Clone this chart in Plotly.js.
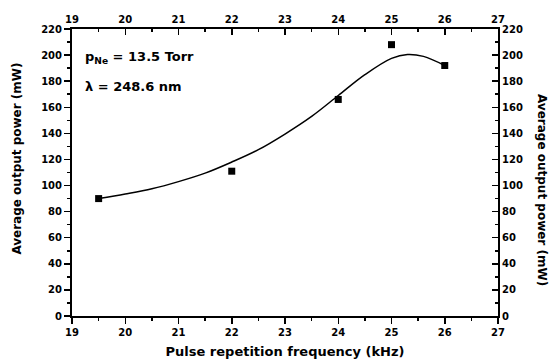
<!DOCTYPE html>
<html>
<head>
<meta charset="utf-8">
<script src="https://cdn.plot.ly/plotly-3.0.1.min.js"></script>
<style>html,body{margin:0;padding:0;background:#fff;}#chart{width:552px;height:364px;}</style>
</head>
<body>
<div id="chart"></div>
<script>
// Measured data points
const freqPoints = [19.5, 22, 24, 25, 26];
const powerPoints = [90, 111, 166, 208, 192];

// Fitted curve
const curveFreq = [19.5, 20.0, 20.5, 21.0, 21.5, 22.0, 22.5, 23.0, 23.5, 24.0, 24.5, 25.0, 25.3, 25.6, 26.0];
const curvePower = [90, 93.5, 97.5, 103, 109.5, 118, 127.5, 139.5, 153, 169, 185, 197.5, 200.5, 199, 192];

const xTickVals = [19, 20, 21, 22, 23, 24, 25, 26, 27];
const yTickVals = [0, 20, 40, 60, 80, 100, 120, 140, 160, 180, 200, 220];

const FONT = 'DejaVu Sans, Arial, sans-serif';
const tickFont = {family: FONT, size: 10, color: '#000', weight: 'bold'};

const traces = [
  {
    x: curveFreq, y: curvePower, type: 'scatter', mode: 'lines',
    line: {shape: 'spline', smoothing: 1.0, color: '#000', width: 1.5},
    xaxis: 'x', yaxis: 'y', showlegend: false, hoverinfo: 'skip'
  },
  {
    x: freqPoints, y: powerPoints, type: 'scatter', mode: 'markers',
    marker: {symbol: 'square', size: 7, color: '#000'},
    xaxis: 'x2', yaxis: 'y2', showlegend: false
  }
];

const axisCommon = {
  showgrid: false, zeroline: false, showline: true, linecolor: '#000', linewidth: 2,
  tickcolor: '#000', tickwidth: 1.5, ticklen: 6, tickfont: tickFont
};

const layout = {
  width: 552, height: 364,
  margin: {l: 72, r: 54, t: 29, b: 48},
  paper_bgcolor: '#fff', plot_bgcolor: '#fff',
  showlegend: false,
  xaxis: Object.assign({}, axisCommon, {
    range: [19, 27], tickvals: xTickVals, ticks: 'outside', side: 'bottom',
    minor: {dtick: 0.5, ticklen: 3, tickcolor: '#000', ticks: 'outside'},
    title: {text: 'Pulse repetition frequency (kHz)', font: {family: FONT, size: 13, color: '#000', weight: 'bold'}, standoff: 10}
  }),
  yaxis: Object.assign({}, axisCommon, {
    range: [0, 220], tickvals: yTickVals, ticks: 'outside', side: 'left',
    minor: {dtick: 10, ticklen: 3, tickcolor: '#000', ticks: 'outside'}
  }),
  xaxis2: Object.assign({}, axisCommon, {
    range: [19, 27], tickvals: xTickVals, ticks: 'inside', side: 'top', overlaying: 'x', anchor: 'y2',
    minor: {dtick: 0.5, ticklen: 3, tickcolor: '#000', ticks: 'inside'}
  }),
  yaxis2: Object.assign({}, axisCommon, {
    range: [0, 220], tickvals: yTickVals, ticks: 'inside', side: 'right', overlaying: 'y', anchor: 'x2',
    minor: {dtick: 10, ticklen: 3, tickcolor: '#000', ticks: 'inside'}
  }),
  annotations: [
    {text: 'p<sub>Ne</sub> = 13.5 Torr', xref: 'paper', yref: 'paper', x: 0.026, y: 0.902,
     xanchor: 'left', yanchor: 'middle', showarrow: false,
     font: {family: FONT, size: 13, color: '#000', weight: 'bold'}},
    {text: 'λ = 248.6 nm', xref: 'paper', yref: 'paper', x: 0.026, y: 0.80,
     xanchor: 'left', yanchor: 'middle', showarrow: false,
     font: {family: FONT, size: 13, color: '#000', weight: 'bold'}},
    {text: 'Average output power (mW)', xref: 'paper', yref: 'paper', x: -0.128, y: 0.55,
     xanchor: 'center', yanchor: 'middle', textangle: -90, showarrow: false,
     font: {family: FONT, size: 12, color: '#000', weight: 'bold'}},
    {text: 'Average output power (mW)', xref: 'paper', yref: 'paper', x: 1.105, y: 0.44,
     xanchor: 'center', yanchor: 'middle', textangle: 90, showarrow: false,
     font: {family: FONT, size: 12, color: '#000', weight: 'bold'}}
  ]
};

Plotly.newPlot('chart', traces, layout, {displayModeBar: false, staticPlot: true});
</script>
</body>
</html>
